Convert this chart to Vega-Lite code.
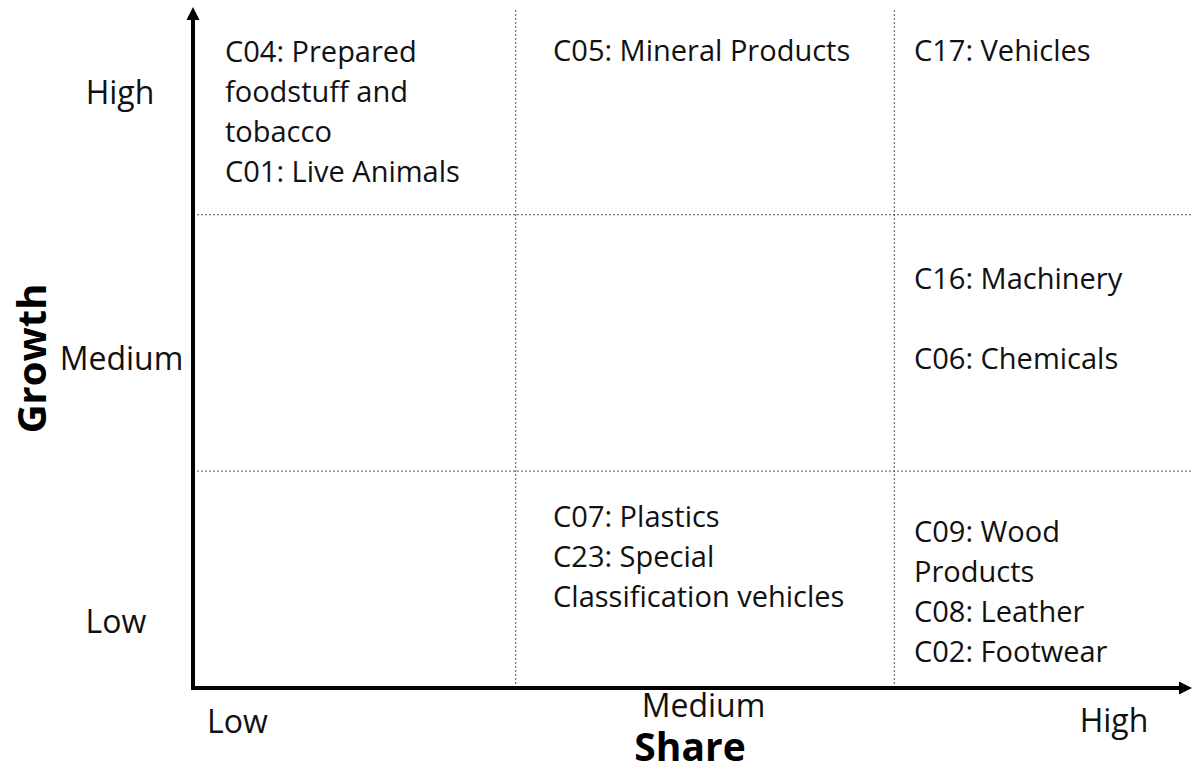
{
  "$schema": "https://vega.github.io/schema/vega-lite/v6.json",
  "width": 999,
  "height": 680,
  "autosize": {"type": "none"},
  "padding": {"left": 193, "top": 8, "right": 0, "bottom": 79},
  "background": "white",
  "config": {"view": {"stroke": null}, "font": "Open Sans"},
  "datasets": {
    "grid": [
      {"x": 32.3, "x2": 32.3, "y": 0, "y2": 100},
      {"x": 70.2, "x2": 70.2, "y": 0, "y2": 100},
      {"x": 0, "x2": 100, "y": 69.6, "y2": 69.6},
      {"x": 0, "x2": 100, "y": 31.9, "y2": 31.9}
    ],
    "axes": [
      {"x": -0.2, "x2": 99, "y": 0, "y2": 0},
      {"x": 0, "x2": 0, "y": -0.3, "y2": 98.5}
    ],
    "arrowUp": [{"x": 0, "y": 99.19}],
    "arrowRight": [{"x": 99.35, "y": 0}],
    "cells": [
      {"label": "C04: Prepared\nfoodstuff and\ntobacco\nC01: Live Animals", "x": 3.2, "y": 92.06},
      {"label": "C05: Mineral Products", "x": 36.04, "y": 92.21},
      {"label": "C17: Vehicles", "x": 72.17, "y": 92.21},
      {"label": "C16: Machinery", "x": 72.17, "y": 58.68},
      {"label": "C06: Chemicals", "x": 72.17, "y": 46.91},
      {"label": "C07: Plastics\nC23: Special\nClassification vehicles", "x": 36.04, "y": 23.68},
      {"label": "C09: Wood\nProducts\nC08: Leather\nC02: Footwear", "x": 72.17, "y": 21.47}
    ],
    "ticks": [
      {"label": "High", "x": -7.31, "y": 85.88},
      {"label": "Medium", "x": -7.16, "y": 46.76},
      {"label": "Low", "x": -7.71, "y": 8.09},
      {"label": "Low", "x": 4.45, "y": -6.62},
      {"label": "Medium", "x": 51.1, "y": -4.2},
      {"label": "High", "x": 92.19, "y": -6.47}
    ],
    "xtitle": [{"label": "Share", "x": 49.75, "y": -10.8}],
    "ytitle": [{"label": "Growth", "x": -14.71, "y": 48.46}]
  },
  "layer": [
    {
      "data": {"name": "grid"},
      "mark": {"type": "rule", "color": "#555555", "strokeWidth": 1, "strokeDash": [2, 2]},
      "encoding": {
        "x": {"field": "x", "type": "quantitative", "scale": {"domain": [0, 100], "nice": false, "zero": false}, "axis": null},
        "x2": {"field": "x2"},
        "y": {"field": "y", "type": "quantitative", "scale": {"domain": [0, 100], "nice": false, "zero": false}, "axis": null},
        "y2": {"field": "y2"}
      }
    },
    {
      "data": {"name": "axes"},
      "mark": {"type": "rule", "color": "black", "strokeWidth": 4},
      "encoding": {
        "x": {"field": "x", "type": "quantitative"},
        "x2": {"field": "x2"},
        "y": {"field": "y", "type": "quantitative"},
        "y2": {"field": "y2"}
      }
    },
    {
      "data": {"name": "arrowUp"},
      "mark": {"type": "point", "shape": "M0,-1L-1,1L1,1Z", "size": 169, "filled": true, "color": "black", "opacity": 1},
      "encoding": {
        "x": {"field": "x", "type": "quantitative"},
        "y": {"field": "y", "type": "quantitative"}
      }
    },
    {
      "data": {"name": "arrowRight"},
      "mark": {"type": "point", "shape": "M1,0L-1,-1L-1,1Z", "size": 169, "filled": true, "color": "black", "opacity": 1},
      "encoding": {
        "x": {"field": "x", "type": "quantitative"},
        "y": {"field": "y", "type": "quantitative"}
      }
    },
    {
      "data": {"name": "cells"},
      "mark": {"type": "text", "align": "left", "baseline": "alphabetic", "fontSize": 29, "lineHeight": 40, "lineBreak": "\n", "color": "#111111", "font": "Open Sans"},
      "encoding": {
        "x": {"field": "x", "type": "quantitative"},
        "y": {"field": "y", "type": "quantitative"},
        "text": {"field": "label"}
      }
    },
    {
      "data": {"name": "ticks"},
      "mark": {"type": "text", "align": "center", "baseline": "alphabetic", "fontSize": 32, "color": "#111111", "font": "Open Sans"},
      "encoding": {
        "x": {"field": "x", "type": "quantitative"},
        "y": {"field": "y", "type": "quantitative"},
        "text": {"field": "label"}
      }
    },
    {
      "data": {"name": "xtitle"},
      "mark": {"type": "text", "align": "center", "baseline": "alphabetic", "fontSize": 39, "fontWeight": "bold", "color": "black", "font": "Open Sans"},
      "encoding": {
        "x": {"field": "x", "type": "quantitative"},
        "y": {"field": "y", "type": "quantitative"},
        "text": {"field": "label"}
      }
    },
    {
      "data": {"name": "ytitle"},
      "mark": {"type": "text", "align": "center", "baseline": "alphabetic", "angle": 270, "fontSize": 40, "fontWeight": "bold", "color": "black", "font": "Open Sans"},
      "encoding": {
        "x": {"field": "x", "type": "quantitative"},
        "y": {"field": "y", "type": "quantitative"},
        "text": {"field": "label"}
      }
    }
  ]
}
